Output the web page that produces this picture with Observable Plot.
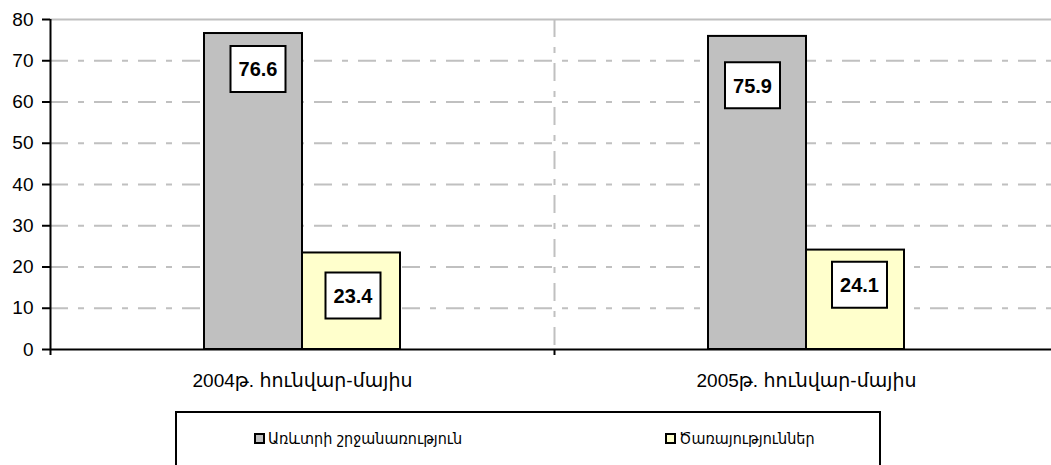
<!DOCTYPE html>
<html><head><meta charset="utf-8">
<script src="https://cdn.jsdelivr.net/npm/d3@7"></script>
<script src="https://cdn.jsdelivr.net/npm/@observablehq/plot@0.6"></script>
<style>
body{margin:0;background:#fff;font-family:"Liberation Sans",Arial,"DejaVu Sans",sans-serif;}
#wrap{position:relative;width:1051px;height:465px;overflow:hidden;background:#fff;}
#chart{position:absolute;left:0;top:0;}
#legend{position:absolute;left:175px;top:411px;width:706px;height:62px;border:2px solid #000;box-sizing:border-box;}
.item{position:absolute;top:16px;display:flex;align-items:center;font-size:16px;font-family:"DejaVu Sans Condensed","DejaVu Sans",sans-serif;white-space:nowrap;}
.sw{display:inline-block;width:7px;height:7px;border:2px solid #000;margin-right:3px;}
</style></head>
<body><div id="wrap"><div id="chart"></div><div id="legend"></div></div>
<script>
const categories = ["2004թ. հունվար-մայիս", "2005թ. հունվար-մայիս"];
const seriesNames = ["Առևտրի շրջանառություն", "Ծառայություններ"];
const tradeValues = [76.6, 75.9];
const serviceValues = [23.4, 24.1];
const yTicks = [0, 10, 20, 30, 40, 50, 60, 70, 80];

const seriesColors = ["#c0c0c0", "#ffffcc"];
// bar placement within each category band (pixels)
const barInsets = [{insetLeft: 154, insetRight: 252}, {insetLeft: 252, insetRight: 154}];
// label box nudges [series][category]
const labelNudge = [
  [{dx: -44.5, dy: 35.5}, {dx: -54, dy: 48.8}],
  [{dx: 50.5, dy: 42.5}, {dx: 53, dy: 34.6}]
];

const seriesValues = [tradeValues, serviceValues];
const rows = seriesValues.map((vals, s) => categories.map((c, i) => ({category: c, series: seriesNames[s], value: vals[i], s, i})));

const boxSymbol = {draw(ctx) { ctx.rect(-27.5, -23, 55, 46); }};
const dash = "18,10,6,10";
const half = 252;

const marks = [
  Plot.gridY({ticks: yTicks.filter(t => t > 0 && t < 80), stroke: "#c0c0c0", strokeOpacity: 1, strokeWidth: 2, strokeDasharray: dash}),
  Plot.ruleY([80], {stroke: "#c0c0c0", strokeWidth: 2}),
  Plot.ruleX([categories[1]], {dx: -half, stroke: "#c0c0c0", strokeWidth: 2, strokeDasharray: dash}),
];
rows.forEach((data, s) => {
  marks.push(Plot.barY(data, {x: "category", y: "value", fill: seriesColors[s], stroke: "#000", strokeWidth: 2, ...barInsets[s]}));
});
rows.forEach((data, s) => {
  data.forEach((d, i) => {
    const n = labelNudge[s][i];
    marks.push(Plot.dot([d], {x: "category", y: "value", symbol: boxSymbol, fill: "#fff", stroke: "#000", strokeWidth: 2, dx: n.dx, dy: n.dy}));
    marks.push(Plot.text([d], {x: "category", y: "value", text: v => v.value.toFixed(1), fontWeight: "bold", fontSize: 20, fill: "#000", dx: n.dx, dy: n.dy + 1}));
  });
});
marks.push(
  Plot.ruleY([0], {stroke: "#000", strokeWidth: 2}),
  Plot.ruleX([categories[0]], {dx: -half, stroke: "#000", strokeWidth: 2, insetBottom: -6}),
  Plot.ruleX([categories[1]], {dx: -half, stroke: "#000", strokeWidth: 2, insetTop: 330, insetBottom: -6}),
  Plot.axisY({ticks: yTicks, tickSize: 8, tickPadding: 9, fontSize: 19, strokeWidth: 2, label: null}),
  Plot.axisX({tickSize: 0, tickPadding: 24, fontSize: 19, label: null})
);

const chart = Plot.plot({
  width: 1051, height: 400,
  marginLeft: 50, marginRight: 0, marginTop: 19, marginBottom: 51,
  style: {fontFamily: '"Liberation Sans", Arial, "DejaVu Sans", sans-serif', color: "#000", background: "#fff"},
  x: {domain: categories, range: [50, 1058], padding: 0, axis: null, label: null},
  y: {domain: [0, 80], axis: null, label: null},
  marks
});
document.getElementById("chart").append(chart);

const legend = document.getElementById("legend");
const legendLeft = [77, 488];
seriesNames.forEach((name, s) => {
  const it = document.createElement("div");
  it.className = "item";
  it.style.left = legendLeft[s] + "px";
  const sw = document.createElement("span");
  sw.className = "sw";
  sw.style.background = seriesColors[s];
  const tx = document.createElement("span");
  tx.textContent = name;
  it.append(sw, tx);
  legend.append(it);
});
</script></body></html>
